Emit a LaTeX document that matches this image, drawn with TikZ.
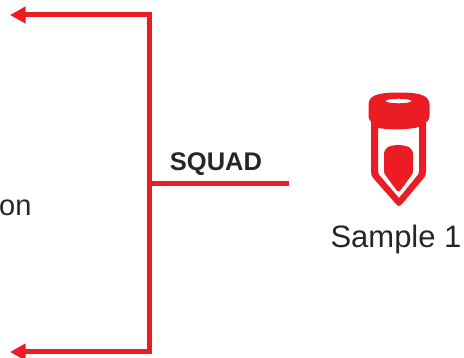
\documentclass[tikz,border=0pt]{standalone}
\usepackage{fontspec}
\setmainfont{Liberation Sans}
\usetikzlibrary{arrows.meta}
\definecolor{vialred}{HTML}{EC1C24}
\definecolor{labelgray}{HTML}{262626}
\tikzset{
  link/.style={draw=vialred,line width=5pt,line cap=butt,line join=miter},
  arrowlink/.style={link,-{Triangle[length=15.5pt,width=16pt,fill=vialred]}},
  label/.style={text=labelgray,inner sep=0pt,outer sep=0pt,anchor=base},
  vialfill/.style={fill=vialred,draw=none}
}
\begin{document}
\begin{tikzpicture}[x=1pt,y=-1pt]
\useasboundingbox (0,0) rectangle (464,358);
\clip (0,0) rectangle (464,358);
\coordinate (junction) at (149.5,183.3);
\coordinate (top) at (149.5,15);
\coordinate (bottom) at (149.5,352);
\coordinate (topend) at (10,15);
\coordinate (bottomend) at (10,352);
\coordinate (squadend) at (289,183.3);
\draw[arrowlink] (top) -- (topend);
\draw[arrowlink] (bottom) -- (bottomend);
\draw[link,line cap=rect] (top) -- (bottom);
\draw[link] (junction) -- (squadend);
\node[label,font=\bfseries\fontsize{25.5}{28}\selectfont] (squad) at (216,171) {SQUAD};
\node[label,anchor=base east,font=\fontsize{29}{32}\selectfont] (on) at (31.5,216) {on};
\node[label,font=\fontsize{31}{34}\selectfont] (sample) at (396,248) {Sample 1};
% vial body
\path[vialfill,even odd rule]
  (371,115) -- (371,172) .. controls (371,175) and (372,177) .. (374,179) -- (396,204)
  .. controls (398,206.5) and (400,206.5) .. (402,204) -- (423,179)
  .. controls (425,177) and (426,175) .. (426,172) -- (426,115) -- cycle
  (378,128) .. controls (390,130) and (407,130) .. (419,127) -- (419,171)
  .. controls (419,174) and (418,175) .. (416,177) -- (399,198) -- (381,177)
  .. controls (379,175) and (378,174) .. (378,171) -- cycle;
% vial cap
\path[vialfill,even odd rule]
  (368.5,105) .. controls (368.5,96) and (376,92.5) .. (399,92.5)
  .. controls (422,92.5) and (429.5,96) .. (429.5,105) -- (429.5,115)
  .. controls (429.5,122) and (425,124) .. (418,125)
  .. controls (405,127) and (392,127) .. (379,125)
  .. controls (373,124) and (368.5,122) .. (368.5,115) -- cycle
  (398.5,101) ellipse [x radius=13, y radius=2.3];
% sample inside the vial
\path[vialfill]
  (384,155) .. controls (384,148) and (388,145.5) .. (398,145)
  .. controls (409,145.5) and (413,148) .. (413,155) -- (413,171)
  .. controls (413,173) and (412.5,174) .. (411,176)
  -- (401,189.5) .. controls (399,192) and (398,192) .. (396,189.5)
  -- (386,176) .. controls (384.5,174) and (384,173) .. (384,171) -- cycle;
\end{tikzpicture}
\end{document}
